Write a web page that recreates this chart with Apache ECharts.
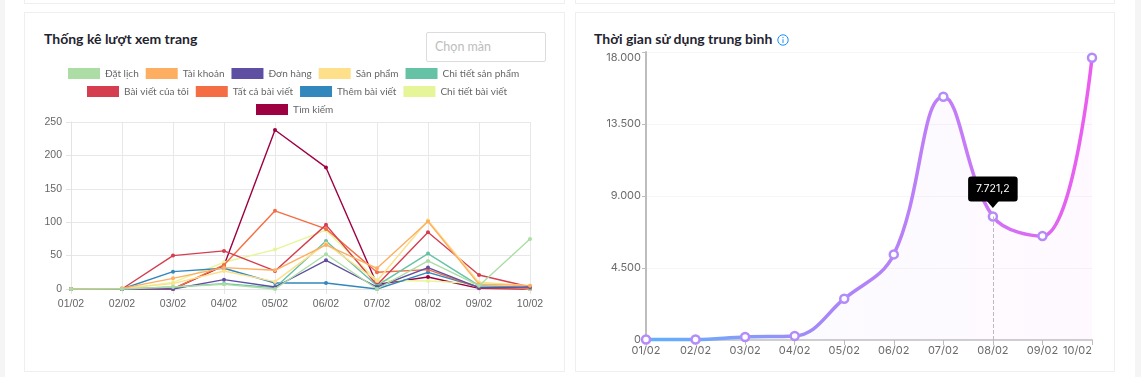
<!DOCTYPE html>
<html>
<head>
<meta charset="utf-8">
<title>Thống kê</title>
<script src="https://cdn.jsdelivr.net/npm/echarts@6/dist/echarts.min.js"></script>
<style>
  html, body { margin: 0; padding: 0; width: 1141px; height: 377px; overflow: hidden; background: #fff; }
  .strip { position: absolute; top: 0; height: 377px; background: #f5f5f5; }
  .card { position: absolute; box-sizing: border-box; background: #fff; border: 1px solid #efefef; }
  .title { position: absolute; font-family: Lato, sans-serif; font-weight: 700; font-size: 14px; color: #1f2430; white-space: nowrap; }
  .chart { position: absolute; }
  #pick { position: absolute; left: 426px; top: 32px; width: 120px; height: 30px; box-sizing: border-box;
    border: 1px solid #dcdcdc; border-radius: 2px; font: 12.5px Lato, sans-serif; color: #bdbdbd; padding: 6px 8px; }
  #info { position: absolute; left: 777px; top: 34px; }
</style>
</head>
<body>
<div class="strip" style="left:0;width:5px"></div>
<div class="strip" style="left:1135px;width:6px"></div>
<div class="card" style="left:24px;top:-20px;width:541px;height:24px"></div>
<div class="card" style="left:575px;top:-20px;width:540px;height:24px"></div>
<div class="card" style="left:24px;top:12px;width:541px;height:360px"></div>
<div class="card" style="left:575px;top:12px;width:540px;height:360px"></div>
<div class="title" style="left:44px;top:30px">Thống kê lượt xem trang</div>
<div id="pick">Chọn màn</div>
<div class="title" style="left:594px;top:30px">Thời gian sử dụng trung bình</div>
<svg id="info" width="12" height="12" viewBox="0 0 12 12">
  <circle cx="6" cy="6" r="5.2" fill="none" stroke="#1890ff" stroke-width="1"/>
  <path d="M6 5.2V9M6 3v1.1" stroke="#1890ff" stroke-width="1"/>
</svg>
<div id="viewsChart" class="chart" style="left:25px;top:60px;width:539px;height:260px"></div>
<div id="timeChart" class="chart" style="left:576px;top:40px;width:538px;height:331px"></div>

<script>
var days = ['01/02', '02/02', '03/02', '04/02', '05/02', '06/02', '07/02', '08/02', '09/02', '10/02']

// luot xem theo trang
var datLich = [0, 0, 3, 7, 0, 52, 0, 42, 5, 75]
var taiKhoan = [0, 1, 16, 32, 28, 66, 31, 101, 7, 5]
var donHang = [0, 0, 0, 14, 3, 43, 3, 32, 2, 3]
var sanPham = [0, 1, 8, 27, 11, 68, 12, 103, 10, 5]
var chiTietSanPham = [0, 0, 3, 8, 2, 72, 5, 53, 5, 2]
var baiVietCuaToi = [0, 0, 50, 57, 27, 96, 6, 85, 21, 3]
var tatCaBaiViet = [0, 0, 0, 36, 117, 90, 25, 29, 2, 1]
var themBaiViet = [0, 0, 26, 31, 9, 9, 0, 25, 3, 2]
var chiTietBaiViet = [0, 0, 10, 40, 59, 88, 13, 12, 8, 0]
var timKiem = [0, 0, 0, 35, 238, 182, 7, 18, 1, 0]

var pageNames = ['Đặt lịch', 'Tài khoản', 'Đơn hàng', 'Sản phẩm', 'Chi tiết sản phẩm', 'Bài viết của tôi', 'Tất cả bài viết', 'Thêm bài viết', 'Chi tiết bài viết', 'Tìm kiếm']
var pageValues = [datLich, taiKhoan, donHang, sanPham, chiTietSanPham, baiVietCuaToi, tatCaBaiViet, themBaiViet, chiTietBaiViet, timKiem]
var pageColors = ['#abdda4', '#fdae61', '#5e4fa2', '#fee08b', '#66c2a5', '#d53e4f', '#f46d43', '#3288bd', '#e6f598', '#9e0142']

// thoi gian su dung
var avgTime = [30, 30, 190, 250, 2580, 5350, 15200, 7721.2, 6500, 17640]
var timeTicks = [0, 4500, 9000, 13500, 18000]
var activeDay = 7

function legendRow(names, left, top) {
  return {
    data: names,
    left: left,
    top: top,
    icon: 'rect',
    itemWidth: 32,
    itemHeight: 11,
    itemGap: 7,
    textStyle: { color: '#666', fontSize: 10, fontFamily: 'Lato, sans-serif' }
  }
}

var viewsChart = echarts.init(document.getElementById('viewsChart'), null, { renderer: 'canvas' })
viewsChart.setOption({
  animation: false,
  legend: [
    legendRow(pageNames.slice(0, 5), 38, 3),
    legendRow(pageNames.slice(5, 9), 57, 21),
    legendRow(pageNames.slice(9), 226, 39)
  ],
  grid: { left: 46, right: 34, top: 62, bottom: 31 },
  xAxis: {
    type: 'category',
    boundaryGap: false,
    data: days,
    axisLine: { lineStyle: { color: '#e4e4e4' } },
    axisTick: { show: true, length: 5, lineStyle: { color: '#e4e4e4' } },
    axisLabel: { color: '#666', fontSize: 10.5, fontFamily: 'Liberation Sans', margin: 10, hideOverlap: false, interval: 0 },
    splitLine: { show: true, lineStyle: { color: '#e8e8e8' } }
  },
  yAxis: {
    type: 'value',
    min: 0,
    max: 250,
    interval: 50,
    axisLine: { show: true, lineStyle: { color: '#e4e4e4' } },
    axisTick: { show: true, length: 5, lineStyle: { color: '#e4e4e4' } },
    axisLabel: { color: '#666', fontSize: 10.5, fontFamily: 'Liberation Sans', margin: 9 },
    splitLine: { lineStyle: { color: '#e8e8e8' } }
  },
  series: pageNames.map(function(name, i) {
    return {
      name: name,
      type: 'line',
      data: pageValues[i],
      symbol: 'circle',
      symbolSize: 4,
      z: 2 + pageNames.length - i, // first series stays on top
      color: pageColors[i],
      lineStyle: { width: 1.4, color: pageColors[i] },
      itemStyle: { color: pageColors[i] },
      clip: false
    }
  })
})

var timeChart = echarts.init(document.getElementById('timeChart'), null, { renderer: 'canvas' })
timeChart.setOption({
  animation: false,
  grid: { left: 70, right: 22, top: 12, bottom: 31 },
  xAxis: {
    type: 'category',
    boundaryGap: false,
    data: days,
    axisLine: { lineStyle: { color: '#cfcfcf', width: 2 } },
    axisTick: { show: true, length: 5, lineStyle: { color: '#bdbdbd' } },
    axisLabel: { color: '#6b6b6b', fontSize: 11, fontFamily: 'Inter, sans-serif', margin: 5, interval: 0, alignMaxLabel: 'right', hideOverlap: false },
    splitLine: { show: false }
  },
  yAxis: {
    type: 'value',
    min: timeTicks[0],
    max: timeTicks[4],
    interval: timeTicks[1],
    axisLine: { show: true, lineStyle: { color: '#bdbdbd', width: 2 } },
    axisTick: { show: true, length: 4, lineStyle: { color: '#bdbdbd' } },
    axisLabel: {
      color: '#6b6b6b', fontSize: 11, fontFamily: 'Inter, sans-serif', margin: 5, verticalAlignMaxLabel: 'top',
      formatter: function(v) { return v.toLocaleString('de-DE') }
    },
    splitLine: { lineStyle: { color: '#f6f6f6' } }
  },
  series: [{
    type: 'line',
    data: avgTime,
    smooth: 0.4,
    symbol: 'circle',
    symbolSize: 8,
    clip: false,
    itemStyle: { color: '#fff', borderColor: '#b48cfa', borderWidth: 2.5 },
    lineStyle: {
      width: 3.5,
      color: new echarts.graphic.LinearGradient(0, 0, 1, 0, [
        { offset: 0, color: '#5fb0fd' },
        { offset: 0.18, color: '#7aa2fb' },
        { offset: 0.4, color: '#a887f8' },
        { offset: 0.7, color: '#c47cf8' },
        { offset: 1, color: '#ec5cee' }
      ])
    },
    areaStyle: {
      color: new echarts.graphic.LinearGradient(0, 0, 1, 0, [
        { offset: 0, color: 'rgba(130,170,255,0.06)' },
        { offset: 1, color: 'rgba(235,100,240,0.06)' }
      ])
    },
    markLine: {
      silent: true,
      symbol: 'none',
      label: { show: false },
      lineStyle: { color: '#bbb', type: 'dashed', width: 1 },
      data: [[{ coord: [days[activeDay], 0] }, { coord: [days[activeDay], avgTime[activeDay]] }]]
    },
    markPoint: {
      silent: true,
      data: [
        {
          coord: [days[activeDay], avgTime[activeDay]],
          symbol: 'triangle',
          symbolRotate: 180,
          symbolSize: [12, 7],
          symbolOffset: [0, -12],
          itemStyle: { color: '#000', borderWidth: 0 },
          label: { show: false }
        },
        {
          coord: [days[activeDay], avgTime[activeDay]],
          symbol: 'rect',
          symbolSize: 0,
          label: {
            show: true,
            position: 'top',
            distance: 15,
            formatter: avgTime[activeDay].toLocaleString('de-DE', { minimumFractionDigits: 1 }),
            color: '#fff',
            fontSize: 10.5,
            fontFamily: 'Inter, sans-serif',
            backgroundColor: '#000',
            borderRadius: 3,
            padding: [7, 8, 7, 8]
          }
        }
      ]
    }
  }]
})
</script>
</body>
</html>
